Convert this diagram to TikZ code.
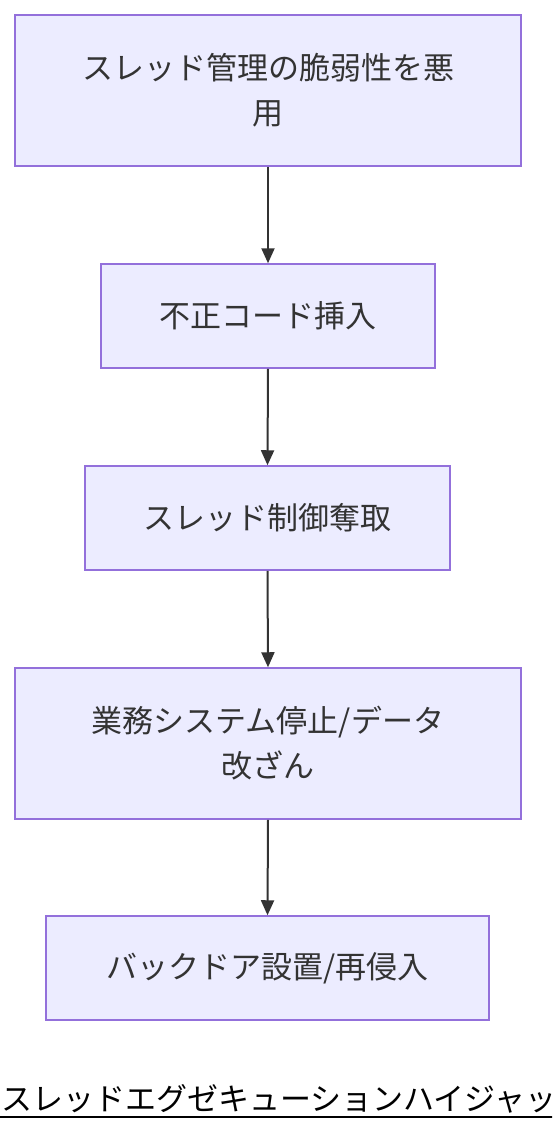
\documentclass[tikz,border=0pt]{standalone}
\usepackage{fontspec}
\setmainfont{Noto Sans CJK JP}
\usetikzlibrary{arrows.meta}
\definecolor{boxfill}{HTML}{ECECFF}
\definecolor{boxline}{HTML}{9370DB}
\definecolor{txt}{HTML}{333333}
\begin{document}
\begin{tikzpicture}[x=1pt,y=1pt,
  stepbox/.style={draw=boxline,fill=boxfill,line width=1.5pt,inner sep=0pt,
    text=txt,align=center,font=\fontsize{31}{45}\selectfont},
  flow/.style={draw=txt,line width=2pt,-{Triangle[length=15pt,width=13pt]}}]
\useasboundingbox (0,0) rectangle (552,-1132);
\clip (0,0) rectangle (552,-1132);
\node[stepbox,minimum width=506pt,minimum height=151pt] (a) at (268,-90.5) {スレッド管理の脆弱性を悪\\用};
\node[stepbox,minimum width=334pt,minimum height=104pt] (b) at (268,-316) {不正コード挿入};
\node[stepbox,minimum width=365pt,minimum height=104pt] (c) at (267.5,-518) {スレッド制御奪取};
\node[stepbox,minimum width=506pt,minimum height=151pt] (d) at (268,-743.5) {業務システム停止/データ\\改ざん};
\node[stepbox,minimum width=443pt,minimum height=104pt] (e) at (267.5,-968) {バックドア設置/再侵入};
\draw[flow] (a.south) -- (b.north);
\draw[flow] (b.south) -- (c.north);
\draw[flow] (c.south) -- (d.north);
\draw[flow] (d.south) -- (e.north);
\node[anchor=base west,inner sep=0pt,font=\fontsize{31}{36}\selectfont] (t) at (1,-1110) {スレッドエグゼキューションハイジャック};
\coordinate (ul) at (0,-1117);
\coordinate (ur) at (t.east |- ul);
\draw[line width=2pt] (ul) -- (ur);
\end{tikzpicture}
\end{document}
